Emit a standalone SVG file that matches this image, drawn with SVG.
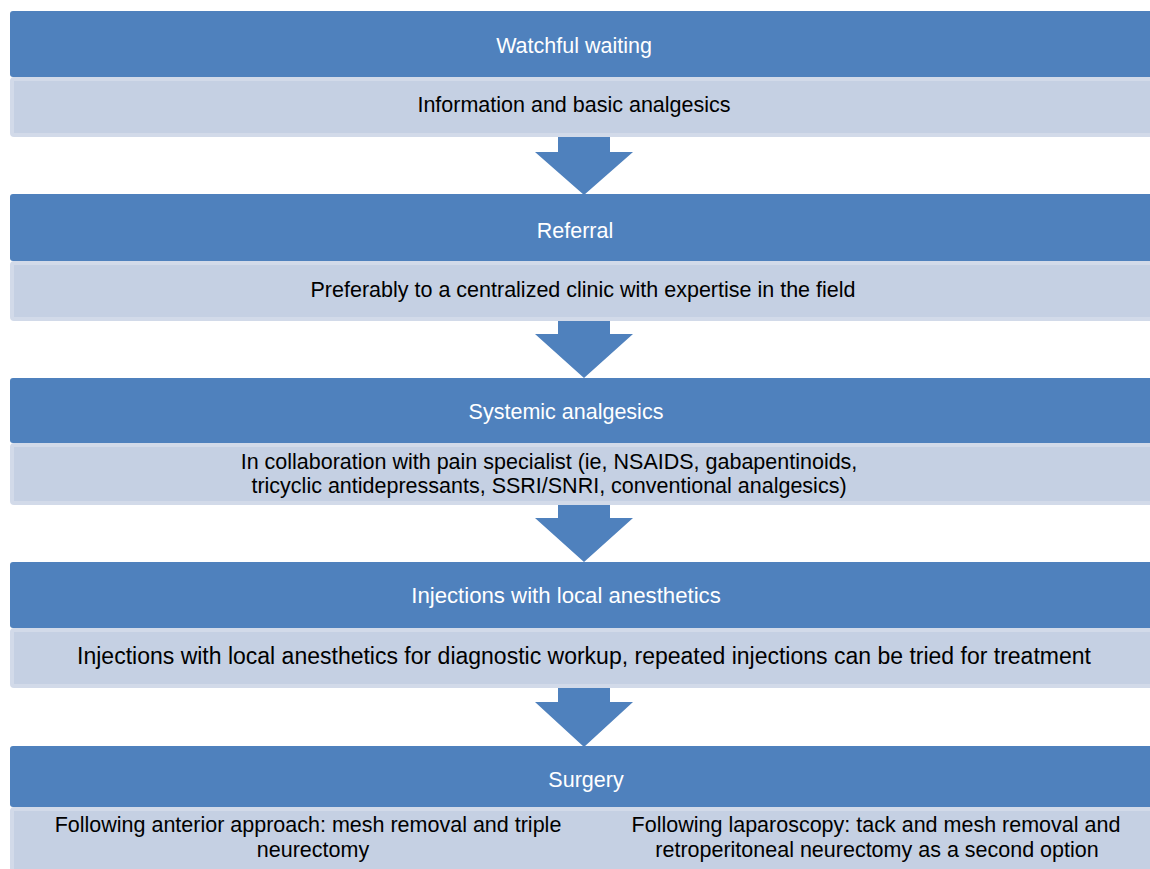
<svg xmlns="http://www.w3.org/2000/svg" width="1150" height="869" viewBox="0 0 1150 869">
<style>
.hd{fill:#4F81BD}
.bd{fill:#C5D0E3;stroke:#D2DAE9;stroke-width:4}
.ar{fill:#4F81BD}
text{font-family:"Liberation Sans",Arial,sans-serif;font-size:21.5px;text-anchor:middle}
.ht{fill:#FFFFFF}
.bt{fill:#000000}
</style>
<rect width="1150" height="869" fill="#FFFFFF"/>
<g id="connectors">
<path class="ar" d="M558,137 H610 V152 H633 L584,195 L535,152 H558 Z"/>
<path class="ar" d="M558,321 H610 V334 H633 L584,378 L535,334 H558 Z"/>
<path class="ar" d="M558,505 H610 V518 H633 L584,562 L535,518 H558 Z"/>
<path class="ar" d="M558,688 H610 V702 H633 L584,747 L535,702 H558 Z"/>
</g>
<g id="node1">
<rect class="bd" x="12" y="79" width="1145" height="56" rx="2"/>
<rect class="hd" x="10" y="11" width="1150" height="66" rx="3"/>
<text class="ht" x="574" y="53">Watchful waiting</text>
<text class="bt" x="574" y="112">Information and basic analgesics</text>
</g>
<g id="node2">
<rect class="bd" x="12" y="263" width="1145" height="56" rx="2"/>
<rect class="hd" x="10" y="194" width="1150" height="67" rx="3"/>
<text class="ht" x="575" y="238">Referral</text>
<text class="bt" x="583" y="297">Preferably to a centralized clinic with expertise in the field</text>
</g>
<g id="node3">
<rect class="bd" x="12" y="445" width="1145" height="58" rx="2"/>
<rect class="hd" x="10" y="378" width="1150" height="65" rx="3"/>
<text class="ht" x="566" y="419">Systemic analgesics</text>
<text class="bt" x="549" y="469">In collaboration with pain specialist (ie, NSAIDS, gabapentinoids,</text>
<text class="bt" x="549" y="493">tricyclic antidepressants, SSRI/SNRI, conventional analgesics)</text>
</g>
<g id="node4">
<rect class="bd" x="12" y="630" width="1145" height="56" rx="2"/>
<rect class="hd" x="10" y="562" width="1150" height="66" rx="3"/>
<text class="ht" x="566" y="603" style="font-size:22.2px">Injections with local anesthetics</text>
<text class="bt" x="584" y="664" style="font-size:23px">Injections with local anesthetics for diagnostic workup, repeated injections can be tried for treatment</text>
</g>
<g id="node5">
<rect class="bd" x="12" y="809" width="1145" height="70" rx="2"/>
<rect class="hd" x="10" y="746" width="1150" height="61" rx="3"/>
<text class="ht" x="586" y="787">Surgery</text>
<text class="bt" x="308" y="832">Following anterior approach: mesh removal and triple</text>
<text class="bt" x="313" y="857">neurectomy</text>
<text class="bt" x="876" y="832">Following laparoscopy: tack and mesh removal and</text>
<text class="bt" x="877" y="857">retroperitoneal neurectomy as a second option</text>
</g>
</svg>
